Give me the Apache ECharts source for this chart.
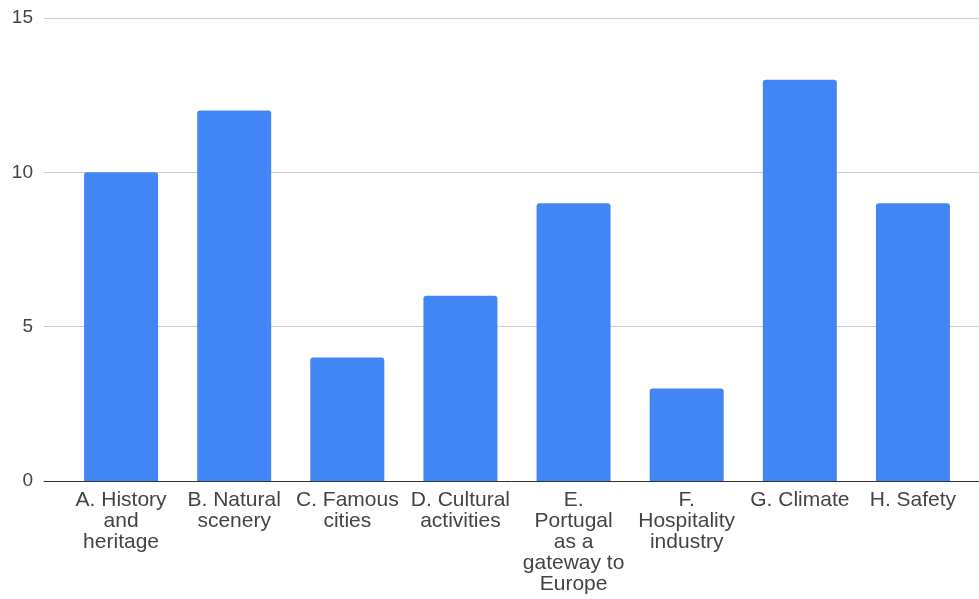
<!DOCTYPE html>
<html>
<head>
<meta charset="utf-8">
<script src="https://cdn.jsdelivr.net/npm/echarts@6/dist/echarts.min.js"></script>
<style>
    html, body { margin: 0; padding: 0; background: #fff; }
    #chart { width: 979px; height: 599px; }
</style>
</head>
<body>
<div id="chart"></div>
<script>
// Data
const categories = ['A', 'B', 'C', 'D', 'E', 'F', 'G', 'H'];
const tickLabels = [
    'A. History\nand\nheritage',
    'B. Natural\nscenery',
    'C. Famous\ncities',
    'D. Cultural\nactivities',
    'E.\nPortugal\nas a\ngateway to\nEurope',
    'F.\nHospitality\nindustry',
    'G. Climate',
    'H. Safety'
];
const values = [10, 12, 4, 6, 9, 3, 13, 9];
const yTicks = [0, 5, 10, 15];

const chart = echarts.init(document.getElementById('chart'));

const font = 'Liberation Sans, Arial, sans-serif';

const option = {
    animation: false,
    textStyle: { fontFamily: font },
    grid: [
        // bars
        { left: 64.5, width: 905, top: 18, height: 463 },
        // gridlines, y labels and baseline (wider than the bars)
        { left: 44, right: 0, top: 18, height: 463 }
    ],
    xAxis: [
        {
            type: 'category',
            gridIndex: 0,
            data: categories,
            axisLine: { show: false },
            axisTick: { show: false },
            axisLabel: {
                interval: 0,
                margin: 9,
                fontSize: 21,
                lineHeight: 21,
                color: '#444',
                fontFamily: font,
                formatter: function(value, idx) {
                    return tickLabels[idx];
                }
            }
        },
        {
            type: 'value',
            gridIndex: 1,
            min: 0,
            max: 1,
            axisLine: { show: true, onZero: false, lineStyle: { color: '#333', width: 1 } },
            axisTick: { show: false },
            axisLabel: { show: false },
            splitLine: { show: false }
        }
    ],
    yAxis: [
        {
            type: 'value',
            gridIndex: 0,
            min: 0,
            max: 15,
            interval: 5,
            axisLine: { show: false },
            axisTick: { show: false },
            axisLabel: { show: false },
            splitLine: { show: false }
        },
        {
            type: 'value',
            gridIndex: 1,
            min: yTicks[0],
            max: yTicks[yTicks.length - 1],
            interval: 5,
            axisLine: { show: false },
            axisTick: { show: false },
            axisLabel: {
                margin: 11,
                fontSize: 19,
                color: '#444',
                fontFamily: font,
                padding: [3, 0, 0, 0]
            },
            splitLine: { lineStyle: { color: '#ccc', width: 1 } }
        }
    ],
    series: [
        {
            type: 'bar',
            xAxisIndex: 0,
            yAxisIndex: 0,
            data: values,
            barWidth: 74,
            itemStyle: {
                color: '#4285F4',
                borderRadius: [3, 3, 0, 0]
            },
            z: 3
        }
    ]
};

chart.setOption(option);
</script>
</body>
</html>
